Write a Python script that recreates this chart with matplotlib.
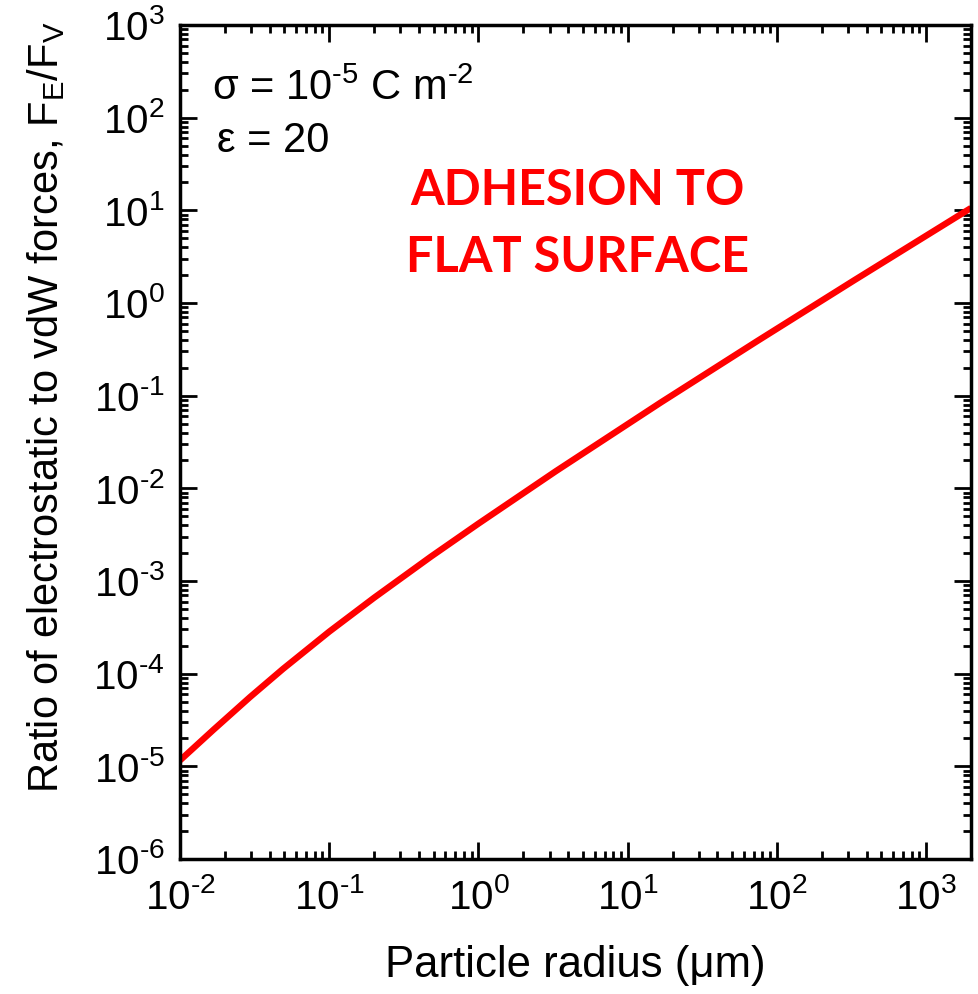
import numpy as np
import matplotlib
matplotlib.use("Agg")
import matplotlib.pyplot as plt
from matplotlib.ticker import LogLocator, NullFormatter, FuncFormatter

# values (particle radius in um, F_E/F_V)
radius = [0.01, 0.0168, 0.0295, 0.049, 0.1, 0.2, 0.48, 1.0, 3.3, 16.6, 74, 330, 2000]
ratio = [1.16e-5, 2.49e-5, 5.6e-5, 1.125e-4, 2.84e-4, 6.6e-4, 1.83e-3, 4.16e-3,
         1.53e-2, 8.4e-2, 0.389, 1.76, 10.6]

xlim = (1e-2, 2e3)
ylim = (1e-6, 1e3)
params = ["\u03c3 = 10$^{\\mathregular{\u20105}}$ C m$^{\\mathregular{\u20102}}$", "\u03b5 = 20"]
regime = ["ADHESION TO", "FLAT SURFACE"]

plt.rcParams["font.family"] = ["Liberation Sans", "DejaVu Sans"]
plt.rcParams["mathtext.fontset"] = "custom"
plt.rcParams["mathtext.rm"] = "Liberation Sans"
plt.rcParams["mathtext.it"] = "Liberation Sans"
plt.rcParams["mathtext.sf"] = "Liberation Sans"
plt.rcParams["axes.unicode_minus"] = False


def pow10(v, _):
    e = int(round(np.log10(v)))
    s = ("\u2010%d" % -e) if e < 0 else "%d" % e
    return r"$\mathregular{10^{%s}}$" % s


fig = plt.figure(figsize=(9.79, 9.94), dpi=100)
ax = fig.add_axes([180 / 979, 135 / 994, 791 / 979, 834 / 994])

ax.plot(radius, ratio, color="#ff0000", lw=4.6, solid_capstyle="butt",
        solid_joinstyle="round")
ax.set_xscale("log"); ax.set_yscale("log")
ax.set_xlim(*xlim); ax.set_ylim(*ylim)

for a in (ax.xaxis, ax.yaxis):
    a.set_major_locator(LogLocator(base=10, numticks=20))
    a.set_minor_locator(LogLocator(base=10, subs=np.arange(2, 10), numticks=20))
    a.set_major_formatter(FuncFormatter(pow10))
    a.set_minor_formatter(NullFormatter())

ax.tick_params(which="both", direction="in", top=True, right=True, width=2)
ax.tick_params(which="major", length=12, labelsize=29)
ax.tick_params(axis="x", which="major", pad=14)
ax.tick_params(axis="y", which="major", pad=11)
ax.tick_params(which="minor", length=6)
for s in ax.spines.values():
    s.set_linewidth(2.5)

ax.set_xlabel("Particle radius (\u03bcm)", fontsize=31.5, labelpad=20)
ax.set_ylabel(r"Ratio of electrostatic to vdW forces, F$_\mathregular{E}$/F$_\mathregular{V}$",
              fontsize=30)
ax.yaxis.set_label_coords(-0.143, 0.542)

ax.text(0.040, 0.910, params[0], transform=ax.transAxes, fontsize=30, va="baseline")
ax.text(0.047, 0.848, params[1], transform=ax.transAxes, fontsize=30, va="baseline")
for i, line in enumerate(regime):
    ax.text(0.502, 0.784 - i * 0.080, line, transform=ax.transAxes, ha="center",
            va="baseline", fontsize=35, color="#ff0000", fontweight="bold",
            family=["Lato", "DejaVu Sans"])

fig.savefig("out.png", dpi=100)
